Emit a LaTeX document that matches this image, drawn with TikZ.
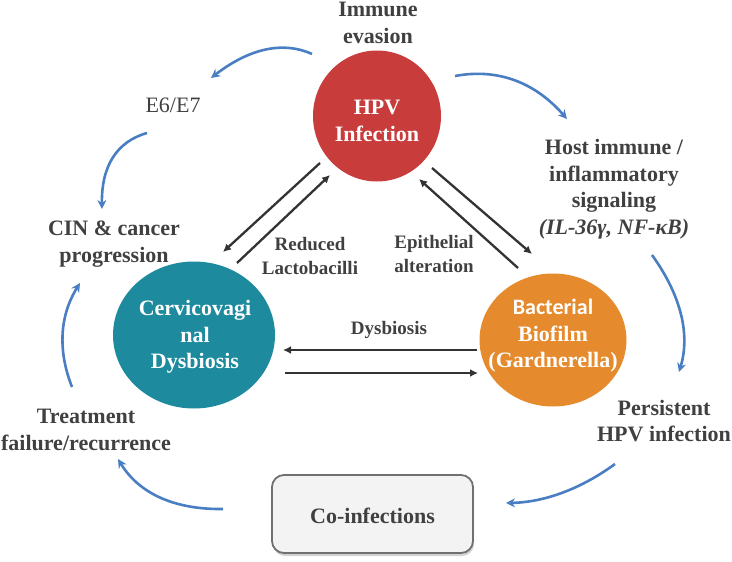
\documentclass[tikz,border=0pt]{standalone}
\usepackage{fontspec}
\setmainfont{Liberation Serif}
\newfontfamily\calib{Carlito}
\usetikzlibrary{shapes.geometric,arrows.meta,calc,shadows}
\definecolor{txt}{HTML}{404040}
\definecolor{hpvred}{HTML}{C83C3C}
\definecolor{teal}{HTML}{1E8A9E}
\definecolor{orng}{HTML}{E68A2E}
\definecolor{bluearr}{HTML}{4A7EC2}
\definecolor{darkarr}{HTML}{333333}
\definecolor{boxfill}{HTML}{F3F3F3}
\definecolor{boxline}{HTML}{707070}
\begin{document}
\begin{tikzpicture}[x=1pt,y=-1pt,
  lbl/.style={text=txt,font=\fontsize{22}{26.5}\selectfont\bfseries,align=center,inner sep=0pt},
  small/.style={text=txt,font=\fontsize{19}{24}\selectfont\bfseries,align=center,inner sep=0pt},
  blob/.style={ellipse,inner sep=0pt,draw=none},
  intext/.style={text=white,font=\fontsize{22}{26.5}\selectfont\bfseries,align=center,inner sep=0pt},
  cyc/.style={draw=bluearr,line width=2.6pt,-{Stealth[length=9pt,width=9pt]}},
  dbl/.style={draw=darkarr,line width=2.3pt,-{Latex[length=8pt,width=8pt]}}]
\useasboundingbox (0,0) rectangle (732,562);
% circles
\node[blob,fill=hpvred,minimum width=128pt,minimum height=131pt] (hpv) at (377,116) {};
\node[blob,fill=teal,minimum width=162pt,minimum height=147pt] (cvd) at (194,335) {};
\node[blob,fill=orng,minimum width=147pt,minimum height=133pt] (bbf) at (553,340) {};
\node[intext] (hpvt) at (377,121) {HPV\\Infection};
\node[intext] (cvdt) at (195,337) {Cervicovagi\\nal\\Dysbiosis};
\node[intext] (bbft) at (553,336) {{\calib Bacterial}\\Biofilm\\(Gardnerella)};
% box
\node[draw=boxline,fill=boxfill,line width=1.8pt,rounded corners=12pt,
  minimum width=201pt,minimum height=78pt,
  drop shadow={shadow xshift=1pt,shadow yshift=-3pt,opacity=0.35}] (coinf) at (372.5,514) {};
\node[lbl] (coinft) at (372.5,516) {Co-infections};
% labels
\node[lbl] (immune) at (378,23) {Immune\\evasion};
\node[text=txt,font=\fontsize{22}{26}\selectfont,inner sep=0pt] (e6) at (173,105) {E6/E7};
\node[lbl] (cin) at (114,244) {CIN \& cancer\\progression};
\node[lbl] (treat) at (86,430) {Treatment\\failure/recurrence};
\node[lbl] (host) at (614,189) {Host immune /\\inflammatory\\signaling\\\textit{(IL-36γ, NF-κB)}};
\node[lbl] (persist) at (664,421) {Persistent\\HPV infection};
\node[small] (reduced) at (310,256) {Reduced\\Lactobacilli};
\node[small] (epith) at (434,254) {Epithelial\\alteration};
\node[small] (dysl) at (389,330) {Dysbiosis};
% black double arrows
\draw[dbl] ($(hpv)+(-57,47)$) -- ($(cvd)+(29,-83)$);
\draw[dbl] ($(cvd)+(43,-72)$) -- ($(hpv)+(-47,59)$);
\draw[dbl] ($(hpv)+(55,52)$) -- ($(bbf)+(-21,-86)$);
\draw[dbl] ($(bbf)+(-35,-72)$) -- ($(hpv)+(42,63)$);
\draw[dbl] ($(bbf)+(-76,10)$) -- ($(cvd)+(89,15)$);
\draw[dbl] ($(cvd)+(91,38)$) -- ($(bbf)+(-75,33)$);
% blue cycle arrows
\draw[cyc] ($(hpv)+(-65,-62)$) .. controls (282.7,40.7) and (249,48.7) .. ($(e6)+(38,-27)$);
\draw[cyc] ($(e6)+(-26,28)$) .. controls (116.3,141.7) and (101.3,166.7) .. ($(cin)+(-12,-35)$);
\draw[cyc] ($(hpv)+(78,-40)$) .. controls (497.7,68) and (535,82.3) .. ($(host)+(-47,-70)$);
\draw[cyc] ($(host)+(38,66)$) .. controls (681.3,295.7) and (690.3,334.7) .. ($(persist)+(15,-49)$);
\draw[cyc] ($(persist)+(-49,43)$) .. controls (580.3,489.3) and (544,502.3) .. ($(coinf)+(133.5,-11)$);
\draw[cyc] ($(coinf)+(-149.5,-5)$) .. controls (173.7,509.7) and (138.7,493) .. ($(treat)+(32,29)$);
\draw[cyc] ($(treat)+(-14,-43)$) .. controls (57.3,349.7) and (60,315) .. ($(cin)+(-34,39)$);
\end{tikzpicture}
\end{document}
